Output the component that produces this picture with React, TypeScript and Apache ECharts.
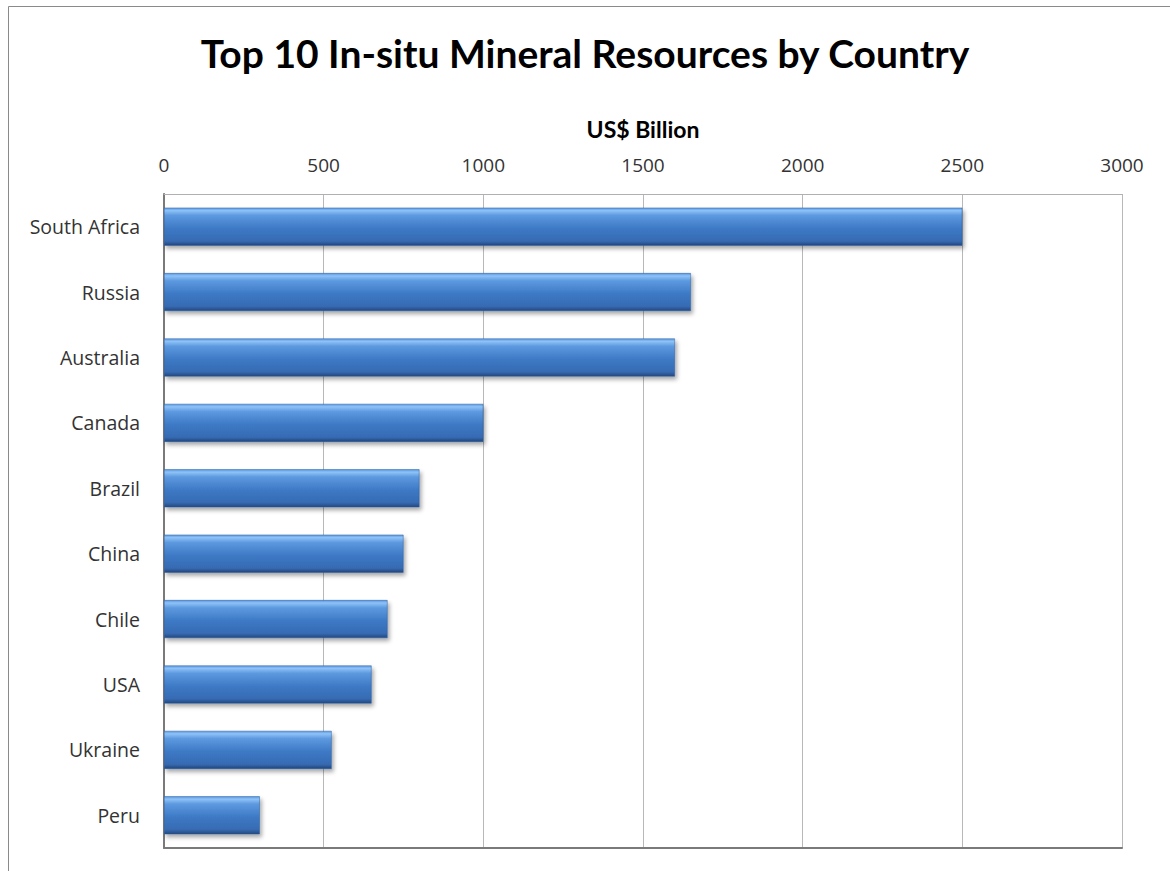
import React, { useEffect, useRef } from "react";
import * as echarts from "echarts";

const countries = ["South Africa", "Russia", "Australia", "Canada", "Brazil", "China", "Chile", "USA", "Ukraine", "Peru"];
const values = [2500, 1650, 1600, 1000, 800, 750, 700, 650, 525, 300];
const axisMin = 0;
const axisMax = 3000;
const axisStep = 500;
const titleText = "Top 10 In-situ Mineral Resources by Country";
const axisTitle = "US$ Billion";

export default function App() {
  const ref = useRef<HTMLDivElement>(null);
  useEffect(() => {
    if (!ref.current) return;
    const chart = echarts.init(ref.current, undefined, { renderer: "svg" });
    const font = "Lato, 'Open Sans', sans-serif";
    const labelFont = "'Open Sans', Lato, sans-serif";
    const barGradient = new echarts.graphic.LinearGradient(0, 0, 0, 1, [
      { offset: 0, color: "#5a97e0" },
      { offset: 0.07, color: "#8ec3f8" },
      { offset: 0.2, color: "#5d99df" },
      { offset: 0.55, color: "#3d79c5" },
      { offset: 0.88, color: "#366bb3" },
      { offset: 1, color: "#23467c" },
    ]);
    chart.setOption({
      animation: false,
      backgroundColor: "#ffffff",
      textStyle: { fontFamily: font },
      title: {
        text: titleText,
        left: "center",
        top: 28,
        textStyle: { fontSize: 39, fontWeight: "bold", color: "#000", fontFamily: font },
      },
      graphic: [
        {
          type: "rect",
          shape: { x: 8.5, y: 6.5, width: 1200, height: 1000 },
          style: { fill: "none", stroke: "#8a8a8a", lineWidth: 1 },
          silent: true,
        },
      ],
      grid: { left: 164, top: 194, right: 48, bottom: 23, containLabel: false },
      xAxis: [
        {
          type: "value",
          position: "top",
          min: axisMin,
          max: axisMax,
          interval: axisStep,
          name: axisTitle,
          nameLocation: "middle",
          nameGap: 54,
          nameTextStyle: { fontSize: 23, fontWeight: "bold", color: "#000", fontFamily: font },
          axisLabel: {
            fontSize: 19,
            color: "#333",
            margin: 20,
            fontFamily: labelFont,
            formatter: (v: number) => String(v),
          },
          axisLine: { show: true, lineStyle: { color: "#b0b0b0", width: 1 } },
          axisTick: { show: false },
          splitLine: { show: true, lineStyle: { color: "#b8b8b8", width: 1 } },
        },
        {
          type: "value",
          position: "bottom",
          min: axisMin,
          max: axisMax,
          interval: axisStep,
          axisLabel: { show: false },
          axisLine: { show: true, lineStyle: { color: "#7a7a7a", width: 2 } },
          axisTick: { show: false },
          splitLine: { show: false },
        },
      ],
      yAxis: [
        {
          type: "category",
          data: countries,
          inverse: true,
          axisLabel: { fontSize: 19.5, color: "#333", margin: 24, fontFamily: labelFont },
          axisLine: { show: true, lineStyle: { color: "#b0b0b0", width: 1 } },
          axisTick: { show: false },
          splitLine: { show: false },
        },
        {
          type: "category",
          data: countries,
          inverse: true,
          position: "right",
          axisLabel: { show: false },
          axisLine: { show: true, lineStyle: { color: "#7a7a7a", width: 2 } },
          axisTick: { show: false },
        },
      ],
      series: [
        {
          type: "bar",
          xAxisIndex: 0,
          yAxisIndex: 0,
          data: values,
          barWidth: 38,
          itemStyle: {
            color: barGradient,
            borderColor: "#2f5f9e",
            borderWidth: 0.5,
            shadowBlur: 4,
            shadowOffsetX: 2,
            shadowOffsetY: 3,
            shadowColor: "rgba(0,0,0,0.35)",
          },
        },
      ],
    });
    return () => chart.dispose();
  }, []);
  return (
    <div
      ref={ref}
      style={{ position: "fixed", left: 0, top: 0, width: 1170, height: 871 }}
    />
  );
}
